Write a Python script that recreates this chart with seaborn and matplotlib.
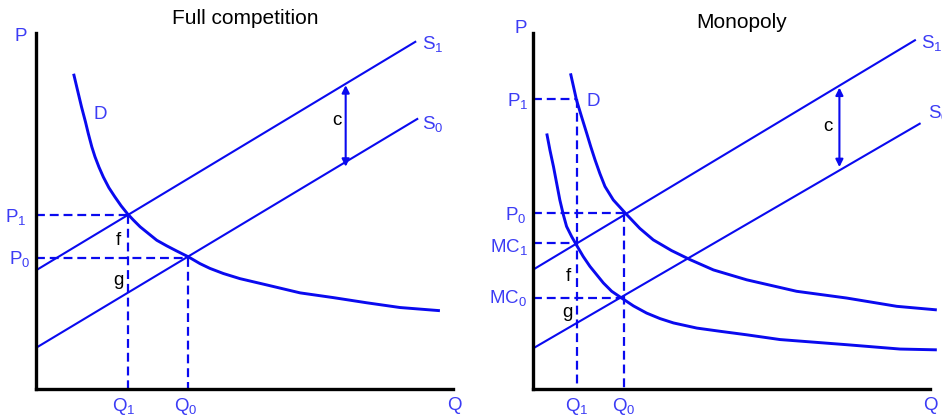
import matplotlib
matplotlib.use("Agg")
import matplotlib.pyplot as plt
import seaborn as sns
import pandas as pd

OUTPUT_FILE = "out.png"

# ---- data (quantity, price in axis units) ----
# Full competition panel
COMP_DEMAND_Q = [0.95, 1.04, 1.15, 1.25, 1.32, 1.41, 1.49, 1.59, 1.70, 1.84,
                 1.99, 2.15, 2.31, 2.46, 2.63, 2.84, 3.05, 3.30, 3.55, 3.85,
                 4.14, 4.39, 4.73, 5.15, 5.83, 6.67, 7.51, 8.35, 9.19, 10.20]
COMP_DEMAND_P = [7.97, 7.59, 7.13, 6.75, 6.46, 6.12, 5.87, 5.61, 5.36, 5.09,
                 4.86, 4.63, 4.43, 4.27, 4.10, 3.93, 3.76, 3.62, 3.49, 3.34,
                 3.17, 3.05, 2.92, 2.79, 2.63, 2.43, 2.31, 2.18, 2.06, 1.98]
COMP_S1_Q = [0.0, 9.60]
COMP_S1_P = [3.00, 8.79]
COMP_S0_Q = [0.0, 9.65]
COMP_S0_P = [1.04, 6.84]
COMP_EQ_Q = [2.32, 3.85]      # Q1, Q0
COMP_EQ_P = [4.41, 3.32]      # P1, P0
COMP_ARROW = (7.82, 7.68, 5.62)

# Monopoly panel
MONO_DEMAND_Q = [0.94, 1.09, 1.22, 1.35, 1.45, 1.56, 1.68, 1.81, 2.02, 2.33,
                 2.69, 3.03, 3.49, 3.96, 4.55, 5.39, 6.65, 7.91, 9.18, 10.19]
MONO_DEMAND_P = [7.98, 7.31, 6.88, 6.46, 6.13, 5.79, 5.45, 5.12, 4.78, 4.44,
                 4.06, 3.77, 3.50, 3.27, 3.01, 2.76, 2.47, 2.30, 2.09, 2.00]
MONO_MC_Q = [0.34, 0.42, 0.51, 0.59, 0.67, 0.76, 0.84, 0.97, 1.09, 1.26,
             1.43, 1.60, 1.77, 1.98, 2.23, 2.53, 2.86, 3.20, 3.54, 4.13,
             4.71, 5.39, 6.23, 7.91, 9.26, 10.19]
MONO_MC_P = [6.46, 6.04, 5.62, 5.20, 4.78, 4.40, 4.11, 3.85, 3.64, 3.35,
             3.10, 2.89, 2.68, 2.47, 2.30, 2.10, 1.92, 1.78, 1.67, 1.54,
             1.46, 1.37, 1.25, 1.12, 1.01, 0.99]
MONO_S1_Q = [0.0, 9.66]
MONO_S1_P = [3.02, 8.83]
MONO_S0_Q = [0.0, 9.78]
MONO_S0_P = [1.03, 6.72]
MONO_Q = [1.11, 2.29]          # Q1, Q0
MONO_P = [7.32, 4.46]          # P1, P0
MONO_MC = [3.69, 2.31]         # MC1, MC0
MONO_ARROW = (7.73, 7.62, 5.61)

LINE_BLUE = "#0a0aef"
TEXT_BLUE = "#3c3cf5"
UNIT_PX = 39.6
FIG_W, FIG_H = 942, 420


def curve(ax, q, p, lw):
    df = pd.DataFrame({"q": q, "p": p})
    sns.lineplot(data=df, x="q", y="p", ax=ax, sort=False, estimator=None,
                 color=LINE_BLUE, lw=lw, clip_on=False,
                 solid_joinstyle="round", solid_capstyle="butt")


def dashed(ax, q, p):
    ax.plot(q, p, color=LINE_BLUE, lw=1.6, dashes=(4, 2.2), clip_on=False)


def make_axes(fig, left_px, right_px):
    bottom_px, top_px = 389, 33
    ax = fig.add_axes([left_px / FIG_W, (FIG_H - bottom_px) / FIG_H,
                       (right_px - left_px) / FIG_W, (bottom_px - top_px) / FIG_H])
    ax.set_xlim(0, (right_px - left_px) / UNIT_PX)
    ax.set_ylim(0, (bottom_px - top_px) / UNIT_PX)
    for side in ["top", "right"]:
        ax.spines[side].set_visible(False)
    for side in ["left", "bottom"]:
        ax.spines[side].set_linewidth(2.4)
        ax.spines[side].set_color("black")
    ax.set_yticks(range(1, 10))
    ax.set_xticks([])
    ax.tick_params(axis="y", direction="out", length=3, width=1.6,
                   labelleft=False, color="black")
    ax.set_xlabel("")
    ax.set_ylabel("")
    ax.patch.set_alpha(0)
    return ax


def blue(ax, x, y, s, ha="center"):
    ax.text(x, y, s, color=TEXT_BLUE, fontsize=13.5, ha=ha, va="baseline",
            clip_on=False)


def black(ax, x, y, s):
    ax.text(x, y, s, color="black", fontsize=13.5, ha="center", va="baseline",
            clip_on=False)


def arrow(ax, x, y_top, y_bot):
    ax.annotate("", xy=(x, y_top), xytext=(x, y_bot),
                arrowprops=dict(arrowstyle="<|-|>", color=LINE_BLUE, lw=1.5,
                                mutation_scale=11, shrinkA=0, shrinkB=0))


def main():
    sns.set_style("white")
    plt.rcParams["font.family"] = ["Liberation Sans", "DejaVu Sans"]
    plt.rcParams["mathtext.fontset"] = "custom"
    plt.rcParams["mathtext.rm"] = "Liberation Sans"
    plt.rcParams["mathtext.default"] = "regular"

    fig = plt.figure(figsize=(FIG_W / 100, FIG_H / 100), dpi=100)

    # ---------------- Full competition ----------------
    ax = make_axes(fig, 36, 453)
    curve(ax, COMP_S1_Q, COMP_S1_P, 1.5)
    curve(ax, COMP_S0_Q, COMP_S0_P, 1.5)
    curve(ax, COMP_DEMAND_Q, COMP_DEMAND_P, 2.1)
    for q, p in zip(COMP_EQ_Q, COMP_EQ_P):
        dashed(ax, [0, q], [p, p])
        dashed(ax, [q, q], [p, 0])
    arrow(ax, *COMP_ARROW)

    blue(ax, -0.39, 8.81, "P")
    blue(ax, -0.25, 4.22, "P$_1$", ha="right")
    blue(ax, -0.15, 3.17, "P$_0$", ha="right")
    blue(ax, 2.22, -0.56, "Q$_1$")
    blue(ax, 3.78, -0.56, "Q$_0$")
    blue(ax, 10.56, -0.53, "Q")
    blue(ax, 1.61, 6.82, "D")
    blue(ax, 9.74, 8.60, "S$_1$", ha="left")
    blue(ax, 9.76, 6.58, "S$_0$", ha="left")
    black(ax, 7.60, 6.67, "c")
    black(ax, 2.07, 3.64, "f")
    black(ax, 2.08, 2.63, "g")
    fig.text(245 / FIG_W, 1 - 18 / FIG_H, "Full competition", fontsize=15,
             ha="center", va="center", color="black")

    # ---------------- Monopoly ----------------
    ax = make_axes(fig, 533.3, 930)
    curve(ax, MONO_S1_Q, MONO_S1_P, 1.5)
    curve(ax, MONO_S0_Q, MONO_S0_P, 1.5)
    curve(ax, MONO_DEMAND_Q, MONO_DEMAND_P, 2.1)
    curve(ax, MONO_MC_Q, MONO_MC_P, 2.1)
    q1, q0 = MONO_Q
    p1, p0 = MONO_P
    mc1, mc0 = MONO_MC
    dashed(ax, [0, q1], [p1, p1])
    dashed(ax, [q1, q1], [p1, 0])
    dashed(ax, [0, q1], [mc1, mc1])
    dashed(ax, [0, q0], [p0, p0])
    dashed(ax, [q0, q0], [p0, 0])
    dashed(ax, [0, q0], [mc0, mc0])
    arrow(ax, *MONO_ARROW)

    blue(ax, -0.32, 8.99, "P")
    blue(ax, -0.13, 7.15, "P$_1$", ha="right")
    blue(ax, -0.17, 4.28, "P$_0$", ha="right")
    blue(ax, -0.13, 3.47, "MC$_1$", ha="right")
    blue(ax, -0.15, 2.17, "MC$_0$", ha="right")
    blue(ax, 1.10, -0.56, "Q$_1$")
    blue(ax, 2.29, -0.56, "Q$_0$")
    blue(ax, 9.85, -0.53, "Q", ha="left")
    blue(ax, 1.52, 7.15, "D")
    blue(ax, 9.78, 8.61, "S$_1$", ha="left")
    blue(ax, 9.97, 6.84, "S$_0$", ha="left")
    black(ax, 7.45, 6.53, "c")
    black(ax, 0.88, 2.74, "f")
    black(ax, 0.86, 1.83, "g")
    fig.text(741.7 / FIG_W, 1 - 23 / FIG_H, "Monopoly", fontsize=15,
             ha="center", va="center", color="black")

    fig.savefig(OUTPUT_FILE, dpi=100)
    plt.close(fig)


if __name__ == "__main__":
    main()
